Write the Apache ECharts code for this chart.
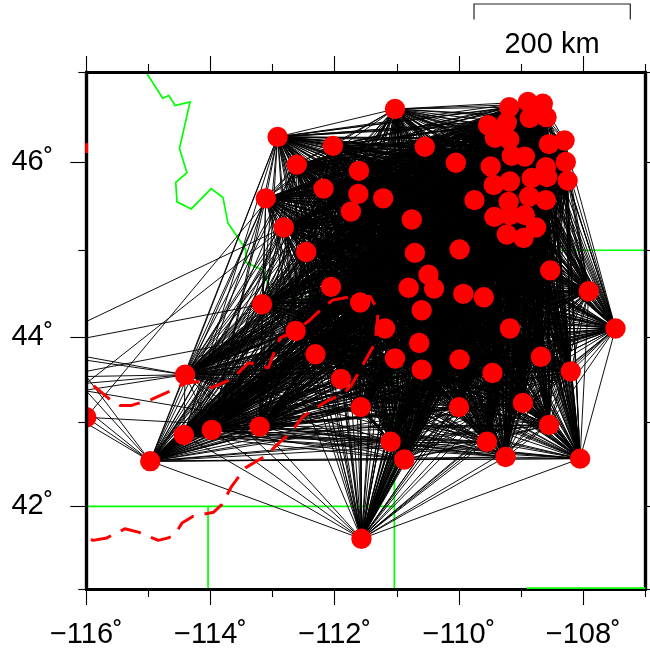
<!DOCTYPE html>
<html><head><meta charset="utf-8">
<style>html,body{margin:0;padding:0;background:#fff}#c{width:650px;height:649px}</style>
<script src="https://cdn.jsdelivr.net/npm/echarts@6/dist/echarts.min.js"></script>
</head><body><div id="c"></div>
<script>
const lonTicksMajor=[-116,-114,-112,-110,-108];
const lonTicksMinor=[-115,-113,-111,-109,-107];
const latTicksMajor=[42,44,46];
const latTicksMinor=[41,43,45,47];
const lonRange=[-116,-107];
const latRange=[41,47];
const scaleLabel='200 km';

const stationLons=[-112.92,-112.03,-112.61,-112.18,-113.11,-112.82,-112.46,-112.06,-111.74,-111.62,-111.61,-113.17,-111.03,-110.55,-110.05,-111.22,-110.76,-110.71,-109.99,-110.49,-110.81,-110.40,-109.93,-109.60,-109.49,-109.75,-109.44,-109.18,-109.20,-109.43,-109.23,-108.96,-108.76,-108.94,-108.87,-108.60,-108.83,-108.58,-108.60,-108.25,-108.28,-108.55,-108.30,-109.15,-108.94,-109.42,-109.19,-109.53,-109.23,-109.19,-108.89,-108.65,-108.86,-108.59,-108.53,-107.91,-107.48,-109.18,-110.60,-111.19,-110.64,-111.59,-111.03,-110.60,-109.99,-109.46,-108.68,-108.20,-108.97,-108.55,-110.00,-111.58,-111.10,-110.88,-109.55,-109.25,-108.05,-111.57,-112.63,-112.31,-111.90,-114.41,-116.00,-114.43,-113.98,-113.21,-114.97,-109.18];
const stationLats=[46.28,46.18,45.97,45.70,45.59,45.26,44.98,44.58,45.44,45.64,45.90,44.38,46.59,46.17,45.99,45.59,45.35,44.97,45.01,44.72,44.57,44.56,44.50,44.46,45.95,45.57,45.74,45.78,45.55,45.38,45.18,45.14,45.26,45.40,45.61,45.57,45.82,45.83,45.94,45.79,46.00,46.20,46.24,46.07,46.06,46.27,46.25,46.41,46.44,46.61,46.67,46.65,46.49,46.50,44.77,44.53,44.10,44.10,44.31,44.10,43.93,44.40,43.75,43.62,43.74,43.58,43.77,43.60,43.23,42.97,43.18,43.18,42.77,42.56,42.77,42.59,42.57,41.61,44.07,43.80,43.51,43.56,43.06,42.85,42.91,42.95,42.54,45.40];
// station 83 on the map edge has only a few links, listed with the links that enter from the west
const edgeStation=83;
const edgeLats=[44.18,43.99,43.77,43.73,43.60,43.54,43.46,43.46,43.38,43.54,43.37,43.37,43.06,43.06,43.06,43.15,42.99];
const edgeTargets=[6,12,82,82,79,82,82,6,82,87,87,73,87,86,3,87,87];

const borderNWLon=[-115.04,-114.77,-114.67,-114.57,-114.33,-114.50,-114.38,-114.56,-114.54,-114.31,-113.99,-113.80,-113.72,-113.48,-113.43,-113.43,-113.15,-113.09,-113.0,-112.8,-112.4,-111.5,-111.04];
const borderNWLat=[47.0,46.71,46.74,46.63,46.67,46.15,45.88,45.77,45.55,45.47,45.70,45.60,45.31,45.06,45.00,44.86,44.77,44.64,44.45,44.40,44.45,44.55,44.48];
const border111Lon=[-111.04,-111.04];
const border111Lat=[45.0,41.0];
const border45Lon=[-111.04,-107.0];
const border45Lat=[45.0,45.0];
const border42Lon=[-116.0,-111.04];
const border42Lat=[42.0,42.0];
const border114Lon=[-114.04,-114.04];
const border114Lat=[42.0,41.0];
const border41Lon=[-108.91,-107.0];
const border41Lat=[41.01,41.01];

const plainLon=[-115.88,-115.62,-115.46,-115.27,-115.14,-114.95,-114.65,-114.41,-114.20,-113.98,-113.66,-113.53,-113.39,-113.26,-113.07,-112.96,-112.88,-112.64,-112.43,-112.19,-112.03,-111.71,-111.43,-111.30,-111.35,-111.46,-111.62,-111.73,-111.86,-112.13,-112.51,-112.72,-112.88,-113.12,-113.44,-113.54,-113.66,-113.82,-113.95,-114.28,-114.46,-114.57,-114.68,-114.84,-115.16,-115.38,-115.67,-115.89,-116.0];
const plainLat=[43.43,43.27,43.20,43.20,43.23,43.27,43.37,43.46,43.48,43.41,43.51,43.60,43.70,43.68,43.64,43.85,43.99,44.07,44.18,44.34,44.43,44.47,44.47,44.30,43.93,43.79,43.58,43.44,43.34,43.25,43.07,42.87,42.77,42.60,42.46,42.36,42.24,42.02,41.93,41.88,41.80,41.66,41.62,41.59,41.69,41.73,41.62,41.59,41.63];
const plainNLon=[-115.995,-115.995];
const plainNLat=[46.21,46.10];

const merc=lat=>Math.log(Math.tan(Math.PI/4+lat*Math.PI/360))*180/Math.PI;
const unmerc=m=>(2*Math.atan(Math.exp(m*Math.PI/180))-Math.PI/2)*180/Math.PI;
const FONT='Liberation Sans';
const pts=(lo,la)=>lo.map((v,i)=>[v,merc(la[i])]);

const links=[];
for(let i=0;i<stationLons.length;i++){
  if(i===edgeStation-1)continue;
  for(let j=i+1;j<stationLons.length;j++){
    if(j===edgeStation-1)continue;
    links.push({coords:[[stationLons[i],merc(stationLats[i])],[stationLons[j],merc(stationLats[j])]]});
  }
}
edgeLats.forEach((la,k)=>{const t=edgeTargets[k]-1;
  links.push({coords:[[lonRange[0],merc(la)],[stationLons[t],merc(stationLats[t])]]});});

function xAx(pos,vals,len,label){return {type:'value',position:pos,min:lonRange[0],max:lonRange[1],z:10,
  axisLine:{show:true,onZero:false,lineStyle:{color:'#000',width:3.2}},
  axisTick:{show:true,length:len,customValues:vals,lineStyle:{color:'#000',width:1.1}},
  axisLabel:{show:label,customValues:vals,margin:31,color:'#000',fontFamily:FONT,fontSize:29,hideOverlap:false,
    showMinLabel:true,showMaxLabel:true,formatter:v=>'\u2212'+Math.abs(Math.round(v))+'\u02da'},
  splitLine:{show:false}};}
function yAx(pos,vals,len,label){const mv=vals.map(merc);return {type:'value',position:pos,min:merc(latRange[0]),max:merc(latRange[1]),z:10,
  axisLine:{show:true,onZero:false,lineStyle:{color:'#000',width:3.2}},
  axisTick:{show:true,length:len,customValues:mv,lineStyle:{color:'#000',width:1.1}},
  axisLabel:{show:label,customValues:mv,margin:33,padding:[3,0,0,0],color:'#000',fontFamily:FONT,fontSize:29,hideOverlap:false,
    formatter:v=>Math.round(unmerc(v))+'\u02da'},
  splitLine:{show:false}};}
function green(lo,la,z){return {type:'line',data:pts(lo,la),symbol:'none',z:z||1,clip:true,silent:true,animation:false,
  lineStyle:{color:'#00ff00',width:1.7,join:'miter'}};}
function dashed(lo,la,z,clip){return {type:'line',data:pts(lo,la),symbol:'none',z:z,clip:clip,silent:true,animation:false,
  lineStyle:{color:'#ff0000',width:3,type:[21,11]}};}

const chart=echarts.init(document.getElementById('c'),null,{renderer:'canvas'});
chart.setOption({animation:false,backgroundColor:'#fff',
  grid:{left:86.3,right:4.7,top:72,height:517.3,containLabel:false},
  xAxis:[xAx('bottom',lonTicksMajor,16,true),xAx('bottom',lonTicksMinor,8,false),xAx('top',lonTicksMajor,16,false),xAx('top',lonTicksMinor,8,false)],
  yAxis:[yAx('left',latTicksMajor,16,true),yAx('left',latTicksMinor,8,false),yAx('right',latTicksMajor,16,false),yAx('right',latTicksMinor,8,false)],
  series:[
    green(borderNWLon,borderNWLat),green(border111Lon,border111Lat),green(border45Lon,border45Lat),
    green(border42Lon,border42Lat),green(border114Lon,border114Lat),
    {...green(border41Lon,border41Lat,11),clip:false},
    {type:'lines',coordinateSystem:'cartesian2d',data:links,z:2,clip:true,silent:true,animation:false,progressive:0,
      polyline:false,symbol:'none',lineStyle:{color:'#000',width:0.95,opacity:1,curveness:0}},
    dashed(plainLon,plainLat,3,true),dashed(plainNLon,plainNLat,11,false),
    {type:'custom',data:pts(stationLons,stationLats),z:4,clip:true,silent:true,animation:false,
      encode:{x:0,y:1},
      renderItem:(params,api)=>{const c=api.coord([api.value(0),api.value(1)]);
        return {type:'circle',shape:{cx:c[0],cy:c[1],r:10.2},style:{fill:'#ff0000'}};}}
  ],
  graphic:[
    {type:'polyline',z:20,shape:{points:[[474,19.5],[474,4],[630.3,4],[630.3,19.5]]},style:{stroke:'#222',fill:null,lineWidth:1.2}},
    {type:'text',z:20,x:552,y:45,style:{text:scaleLabel,font:'29px "Liberation Sans"',fill:'#000',align:'center',verticalAlign:'middle'}}
  ]
});
</script></body></html>
